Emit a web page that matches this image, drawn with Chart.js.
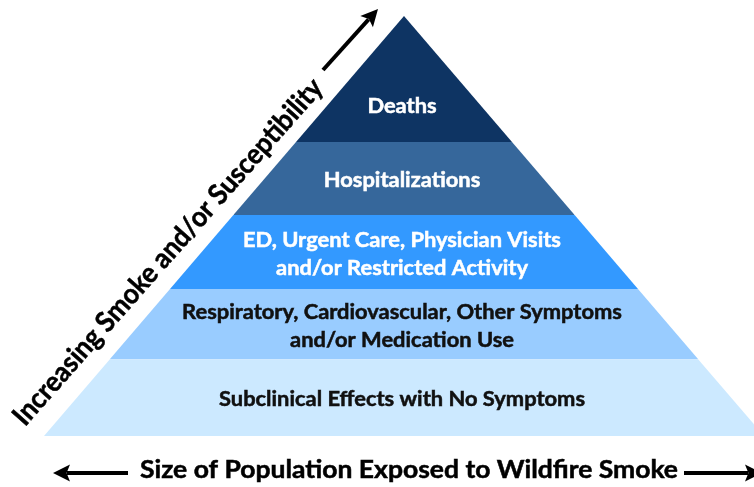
<!DOCTYPE html>
<html>
<head>
<meta charset="utf-8">
<script src="https://cdn.jsdelivr.net/npm/chart.js@4"></script>
<style>
  html, body { margin: 0; padding: 0; background: #fff; }
  #container-piramide { width: 754px; height: 487px; }
</style>
</head>
<body>
<div id="container-piramide"><canvas id="grafico" width="754" height="487"></canvas></div>
<script>
// Camadas da pirâmide, de baixo para cima
const camadasTexto = [
    ['Subclinical Effects with No Symptoms'],
    ['Respiratory, Cardiovascular, Other Symptoms', 'and/or Medication Use'],
    ['ED, Urgent Care, Physician Visits', 'and/or Restricted Activity'],
    ['Hospitalizations'],
    ['Deaths']
];
// limites de cada camada (0 = base, 1 = topo)
const limitesNiveis = [0, 0.183, 0.35, 0.526, 0.70, 1.0];
const coresCamadas = ['#cce9ff', '#99ccff', '#3399ff', '#36679b', '#0e3463'];
const coresTexto = ['#111111', '#111111', '#ffffff', '#ffffff', '#ffffff'];
const tituloEixoY = 'Increasing Smoke and/or Susceptibility';
const tituloEixoX = 'Size of Population Exposed to Wildfire Smoke';

const fonte = 'Lato, "Open Sans", sans-serif';

// Cria os pontos de cada trapézio a partir dos limites
function pontosCamada(base, topo) {
    const pts = [{ x: -(1 - base), y: base }];
    if (topo >= 1) {
        pts.push({ x: 0, y: topo });
    } else {
        pts.push({ x: -(1 - topo), y: topo });
        pts.push({ x: (1 - topo), y: topo });
    }
    pts.push({ x: (1 - base), y: base });
    return pts;
}

const datasets = camadasTexto.map((texto, i) => ({
    label: texto.join(' '),
    data: pontosCamada(limitesNiveis[i], limitesNiveis[i + 1]),
    backgroundColor: coresCamadas[i],
    borderWidth: 0,
    pointRadius: 0,
    tension: 0,
    fill: { value: limitesNiveis[i] }
}));

// escreve o texto comprimido na horizontal (parecido com Calibri)
function textoEstreito(ctx, texto, x, y, tamanho, escalaX) {
    ctx.save();
    ctx.font = 'bold ' + tamanho + 'px ' + fonte;
    ctx.translate(x, y);
    ctx.scale(escalaX, 1);
    ctx.lineWidth = 0.5;
    ctx.strokeStyle = ctx.fillStyle;
    ctx.fillText(texto, 0, 0);
    ctx.strokeText(texto, 0, 0);
    ctx.restore();
}

function escalaParaLargura(ctx, texto, tamanho, largura) {
    ctx.font = 'bold ' + tamanho + 'px ' + fonte;
    return largura / ctx.measureText(texto).width;
}

function seta(ctx, x1, y1, x2, y2, espessura, cabeca) {
    const ang = Math.atan2(y2 - y1, x2 - x1);
    const xb = x2 - Math.cos(ang) * cabeca;
    const yb = y2 - Math.sin(ang) * cabeca;
    ctx.strokeStyle = '#000';
    ctx.fillStyle = '#000';
    ctx.lineWidth = espessura;
    ctx.beginPath();
    ctx.moveTo(x1, y1);
    ctx.lineTo(xb + Math.cos(ang) * 3, yb + Math.sin(ang) * 3);
    ctx.stroke();
    ctx.beginPath();
    ctx.moveTo(x2, y2);
    ctx.lineTo(xb + Math.cos(ang + Math.PI / 2) * cabeca * 0.5, yb + Math.sin(ang + Math.PI / 2) * cabeca * 0.5);
    ctx.lineTo(xb + Math.cos(ang) * cabeca * 0.2, yb + Math.sin(ang) * cabeca * 0.2);
    ctx.lineTo(xb + Math.cos(ang - Math.PI / 2) * cabeca * 0.5, yb + Math.sin(ang - Math.PI / 2) * cabeca * 0.5);
    ctx.closePath();
    ctx.fill();
}

const pluginTextos = {
    id: 'textosPiramide',
    afterDatasetsDraw(chart) {
        const ctx = chart.ctx;
        const x = chart.scales.x;
        const y = chart.scales.y;
        ctx.save();
        ctx.textAlign = 'center';
        ctx.textBaseline = 'middle';

        // rótulos das camadas
        const tam = 20;
        const esc = escalaParaLargura(ctx, camadasTexto[0][0], tam, 366);
        const cx = x.getPixelForValue(0) - 2;
        camadasTexto.forEach((linhas, i) => {
            const base = limitesNiveis[i];
            const topo = limitesNiveis[i + 1];
            const fator = topo >= 1 ? 0.28 : 0.47;
            const cy = y.getPixelForValue(base + (topo - base) * fator);
            ctx.fillStyle = coresTexto[i];
            const alt = 28;
            linhas.forEach((linha, j) => {
                textoEstreito(ctx, linha, cx, cy + (j - (linhas.length - 1) / 2) * alt, tam, esc);
            });
        });

        // título diagonal
        ctx.fillStyle = '#000';
        const tamY = 28;
        const escY = escalaParaLargura(ctx, tituloEixoY, tamY, 452);
        ctx.save();
        ctx.translate(168, 252);
        ctx.rotate(-48.5 * Math.PI / 180);
        textoEstreito(ctx, tituloEixoY, 0, 0, tamY, escY);
        ctx.restore();
        seta(ctx, 323, 70, 378, 9, 4, 17);

        // título inferior com setas
        ctx.fillStyle = '#000';
        const tamX = 24;
        const escX = escalaParaLargura(ctx, tituloEixoX, tamX, 538);
        textoEstreito(ctx, tituloEixoX, 409, 470, tamX, escX);
        seta(ctx, 128, 473, 53, 473, 4, 17);
        seta(ctx, 684, 473, 762, 473, 4, 17);

        ctx.restore();
    }
};

new Chart(document.getElementById('grafico'), {
    type: 'line',
    data: { datasets: datasets },
    options: {
        responsive: false,
        animation: false,
        layout: { padding: 0 },
        plugins: {
            legend: { display: false },
            tooltip: { enabled: false },
            title: { display: false }
        },
        scales: {
            x: { type: 'linear', display: false, min: -404 / 360, max: 350 / 360 },
            y: { type: 'linear', display: false, min: -51 / 420, max: 436 / 420 }
        }
    },
    plugins: [pluginTextos]
});
</script>
</body>
</html>
